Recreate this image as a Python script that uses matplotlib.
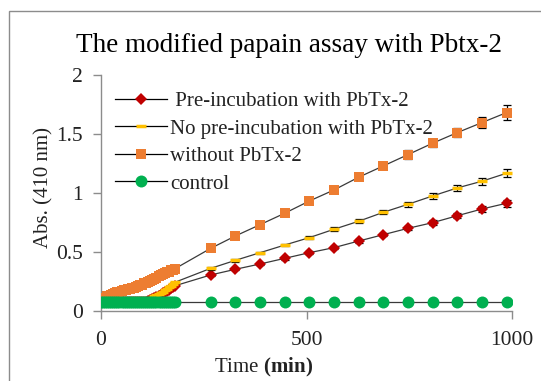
import matplotlib
matplotlib.use("Agg")
import matplotlib.pyplot as plt
from matplotlib.patches import Rectangle

plt.rcParams['font.family'] = ['Liberation Serif', 'DejaVu Serif']
plt.rcParams['mathtext.fontset'] = 'custom'
plt.rcParams['mathtext.rm'] = 'Liberation Serif'
plt.rcParams['mathtext.bf'] = 'Liberation Serif:bold'

# ---- data ----
t_dense = [0, 5, 10, 15, 20, 25, 30, 35, 40, 45, 50, 55, 60, 65, 70, 75, 80, 85, 90,
           95, 100, 105, 110, 115, 120, 125, 130, 135, 140, 145, 150, 155, 160, 165,
           170, 175, 180]
t_sparse = [267, 327, 387, 447, 507, 567, 627, 687, 747, 807, 867, 927, 987]

pre_dense = [0.07, 0.07, 0.07, 0.07, 0.07, 0.07, 0.07, 0.07, 0.07, 0.07, 0.07, 0.07,
             0.07, 0.07, 0.07, 0.07, 0.07, 0.07, 0.07, 0.07, 0.07, 0.072, 0.075, 0.08,
             0.088, 0.095, 0.105, 0.115, 0.125, 0.135, 0.145, 0.155, 0.165, 0.175, 0.19, 0.20, 0.21]
pre_sparse = [0.302, 0.350, 0.395, 0.443, 0.491, 0.534, 0.590, 0.644, 0.698, 0.746,
              0.805, 0.862, 0.911]
pre_err = [0.01, 0.01, 0.01, 0.012, 0.012, 0.015, 0.015, 0.015, 0.018, 0.02, 0.022,
           0.025, 0.03]

nopre_dense = [0.07, 0.07, 0.07, 0.07, 0.07, 0.07, 0.07, 0.07, 0.07, 0.07, 0.07, 0.07,
               0.07, 0.07, 0.07, 0.07, 0.07, 0.07, 0.07, 0.07, 0.07, 0.075, 0.08, 0.09,
               0.10, 0.11, 0.12, 0.13, 0.14, 0.15, 0.16, 0.172, 0.185, 0.198, 0.21, 0.225, 0.24]
nopre_sparse = [0.358, 0.426, 0.491, 0.556, 0.619, 0.690, 0.758, 0.834, 0.902, 0.973,
                1.041, 1.098, 1.166]
nopre_err = [0.01, 0.01, 0.01, 0.012, 0.012, 0.015, 0.015, 0.018, 0.02, 0.022, 0.025,
             0.028, 0.034]

wo_dense = [0.10, 0.105, 0.11, 0.12, 0.125, 0.13, 0.14, 0.15, 0.155, 0.16, 0.165, 0.17,
            0.175, 0.18, 0.185, 0.19, 0.195, 0.20, 0.21, 0.215, 0.22, 0.23, 0.235, 0.245,
            0.25, 0.26, 0.27, 0.28, 0.29, 0.30, 0.31, 0.315, 0.325, 0.33, 0.34, 0.345, 0.355]
wo_sparse = [0.528, 0.633, 0.729, 0.826, 0.930, 1.024, 1.132, 1.228, 1.324, 1.421,
             1.511, 1.596, 1.681]
wo_err = [0.015, 0.015, 0.02, 0.02, 0.02, 0.025, 0.025, 0.03, 0.035, 0.035, 0.04, 0.05,
          0.06]

ctrl_dense = [0.068] * 37
ctrl_sparse = [0.068, 0.068, 0.068, 0.068, 0.068, 0.068, 0.068, 0.068, 0.068, 0.068,
               0.068, 0.068, 0.068]
ctrl_err = [0.0] * 13

labels = [" Pre-incubation with PbTx-2", "No pre-incubation with PbTx-2",
          "without PbTx-2", "control"]
x_ticks = [0, 500, 1000]
y_ticks = [0, 0.5, 1, 1.5, 2]
y_ticklabels = ["0", "0.5", "1", "1.5", "2"]

# ---- figure ----
W, H = 541, 381
fig = plt.figure(figsize=(W / 100, H / 100), dpi=100)
fig.patch.set_facecolor('white')
fig.patches.append(Rectangle((9 / W, -0.05), 1.2, 1 - 11 / H + 0.05,
                             transform=fig.transFigure, fill=False,
                             edgecolor='#8c8c8c', lw=1.0))

ax = fig.add_axes([101 / W, 70.5 / H, 411 / W, 235.5 / H])

line_color = '#3a3a3a'
series = [
    (pre_dense, pre_sparse, pre_err, dict(marker='D', color='#C00000', ms=6.5, mew=0)),
    (nopre_dense, nopre_sparse, nopre_err, dict(marker='_', color='#FFC000', ms=7, mew=2.5)),
    (wo_dense, wo_sparse, wo_err, dict(marker='s', color='#ED7D31', ms=7.2, mew=0)),
    (ctrl_dense, ctrl_sparse, ctrl_err, dict(marker='o', color='#00B050', ms=8.6, mew=0)),
]

handles = []
for i, (yd, ys, ye, st) in enumerate(series):
    x = t_dense + t_sparse
    y = yd + ys
    z = 2 + i
    ax.errorbar(t_sparse, ys, yerr=ye, fmt='none', ecolor='black', elinewidth=0.9,
                capsize=3, capthick=0.9, zorder=z)
    ax.plot(x, y, color=line_color, lw=0.9, zorder=z)
    ax.plot(x, y, linestyle='none', marker=st['marker'], markersize=st['ms'],
            markerfacecolor=st['color'], markeredgecolor=st['color'],
            markeredgewidth=st['mew'], zorder=z + 0.1)
    h, = ax.plot([], [], color='black', lw=0.9, marker=st['marker'], markersize=st['ms'],
                 markerfacecolor=st['color'], markeredgecolor=st['color'],
                 markeredgewidth=st['mew'])
    handles.append(h)

ax.set_xlim(0, 1000)
ax.set_ylim(0, 2)
ax.set_xticks(x_ticks)
ax.set_xticklabels([str(v) for v in x_ticks])
ax.set_yticks(y_ticks)
ax.set_yticklabels(y_ticklabels)
for s in ['top', 'right']:
    ax.spines[s].set_visible(False)
for s in ['left', 'bottom']:
    ax.spines[s].set_color('#8c8c8c')
    ax.spines[s].set_linewidth(1.0)
ax.tick_params(axis='both', direction='out', length=6, width=1.0, color='#8c8c8c',
               labelsize=15.5, labelcolor='#222222')
ax.tick_params(axis='x', pad=9)
ax.tick_params(axis='y', pad=7)

fig.text(289 / W, 1 - 46 / H, "The modified papain assay with Pbtx-2", fontsize=19.5,
         ha='center', va='center', color='black')
fig.text(44 / W, 1 - 188 / H, "Abs. (410 nm)", fontsize=15, rotation=90,
         ha='center', va='center', color='#222222')
fig.text(264 / W, 1 - 367 / H, r"Time $\mathbf{(min)}$", fontsize=15,
         ha='center', va='center', color='#222222')

leg = ax.legend(handles, labels, loc='upper left', bbox_to_anchor=(0.034, 0.93),
                frameon=False, fontsize=15, handlelength=2.5, handletextpad=0.15,
                labelspacing=0.38, borderaxespad=0.0, borderpad=0.0)
for txt in leg.get_texts():
    txt.set_color('#222222')

fig.savefig("out.png", dpi=100, facecolor='white')
